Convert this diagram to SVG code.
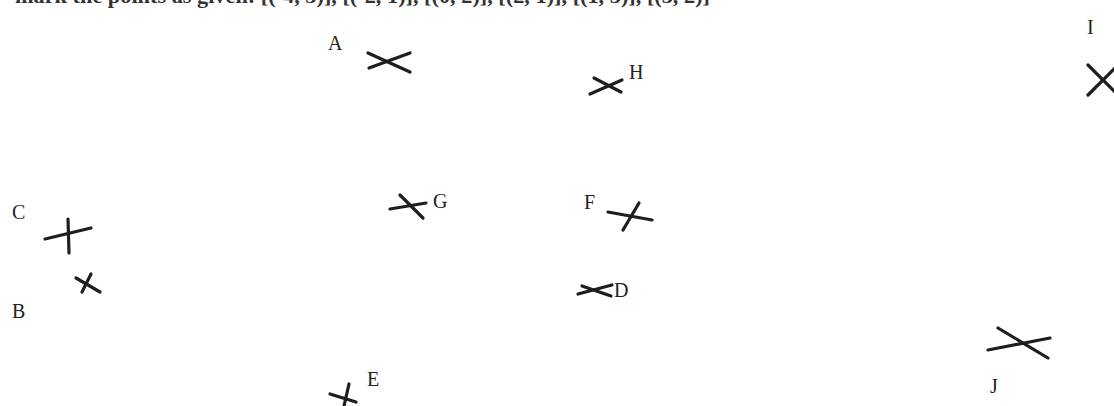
<svg xmlns="http://www.w3.org/2000/svg" width="1114" height="406" viewBox="0 0 1114 406">
  <style>
    .x { stroke: #1e1e1e; stroke-width: 3.2; stroke-linecap: round; fill: none; }
    .lbl { font-family: "Liberation Serif", "DejaVu Serif", serif; font-size: 20px; fill: #222; }
    .top { font-family: "Liberation Serif", "DejaVu Serif", serif; font-size: 22px; font-weight: bold; fill: #333; }
  </style>
  <rect width="1114" height="406" fill="#ffffff"/>
  <text class="top" x="15" y="3" textLength="695" lengthAdjust="spacingAndGlyphs">mark the points as given: [(-4, 3)], [(-2, 1)], [(0, 2)], [(2, 1)], [(1, 3)], [(3, 2)]</text>
  <g id="connectors"/>
  <g id="A">
    <text class="lbl" x="328" y="50">A</text>
    <line class="x" x1="368" y1="53" x2="410" y2="72"/>
    <line class="x" x1="369" y1="68" x2="410" y2="53"/>
  </g>
  <g id="H">
    <line class="x" x1="590" y1="94" x2="622" y2="80"/>
    <line class="x" x1="594" y1="78" x2="621" y2="92"/>
    <text class="lbl" x="629" y="79">H</text>
  </g>
  <g id="I">
    <text class="lbl" x="1087" y="34">I</text>
    <line class="x" x1="1088" y1="65" x2="1116" y2="93"/>
    <line class="x" x1="1088" y1="95" x2="1116" y2="67"/>
  </g>
  <g id="C">
    <text class="lbl" x="12" y="219">C</text>
    <line class="x" x1="45" y1="239" x2="91" y2="228"/>
    <line class="x" x1="68" y1="219" x2="69" y2="253"/>
  </g>
  <g id="B">
    <text class="lbl" x="12" y="318">B</text>
    <line class="x" x1="76" y1="278" x2="100" y2="292"/>
    <line class="x" x1="82" y1="292" x2="91" y2="274"/>
  </g>
  <g id="G">
    <line class="x" x1="390" y1="209" x2="426" y2="203"/>
    <line class="x" x1="400" y1="195" x2="423" y2="218"/>
    <text class="lbl" x="433" y="208">G</text>
  </g>
  <g id="F">
    <text class="lbl" x="584" y="209">F</text>
    <line class="x" x1="608" y1="212" x2="652" y2="220"/>
    <line class="x" x1="623" y1="230" x2="639" y2="203"/>
  </g>
  <g id="D">
    <line class="x" x1="578" y1="294" x2="612" y2="285"/>
    <line class="x" x1="582" y1="286" x2="611" y2="296"/>
    <text class="lbl" x="614" y="297">D</text>
  </g>
  <g id="E">
    <text class="lbl" x="367" y="386">E</text>
    <line class="x" x1="330" y1="394" x2="356" y2="402"/>
    <line class="x" x1="349" y1="384" x2="344" y2="406"/>
  </g>
  <g id="J">
    <line class="x" x1="998" y1="328" x2="1048" y2="358"/>
    <line class="x" x1="988" y1="350" x2="1050" y2="338"/>
    <text class="lbl" x="990" y="393">J</text>
  </g>
</svg>
